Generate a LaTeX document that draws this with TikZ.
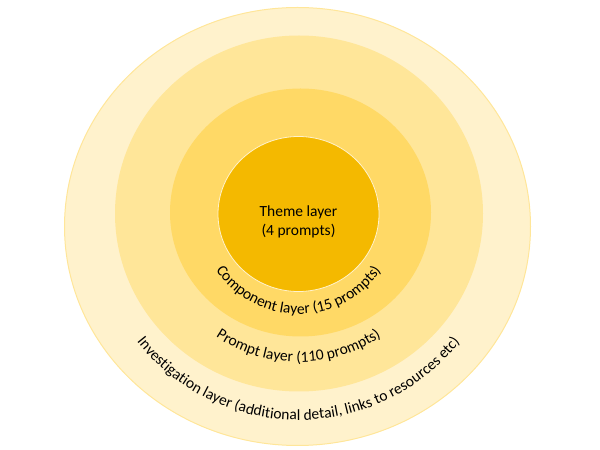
\documentclass[tikz,border=0pt]{standalone}
\usepackage{fontspec}
\setmainfont{Carlito}
\usetikzlibrary{decorations.text}
\definecolor{c1}{HTML}{FFF2CC}
\definecolor{c1b}{HTML}{FFE699}
\definecolor{c2}{HTML}{FFE699}
\definecolor{c3}{HTML}{FFD966}
\definecolor{c4}{HTML}{F4B900}
\tikzset{
  ringtext/.style={decorate,decoration={text along path,text align=center,
    text={|\fontsize{15.5}{18}\selectfont|#1}}}
}
\begin{document}
\begin{tikzpicture}[x=1pt,y=1pt]
\useasboundingbox (0,0) rectangle (600,450);
\fill[c1,draw=c1b,line width=1pt] (297.5,223.5) ellipse [x radius=233, y radius=219];
\fill[c2] (299,236.5) ellipse [x radius=184, y radius=178];
\fill[c3] (300.5,237.5) ellipse [x radius=130.5, y radius=124];
\fill[c4,draw=c1,line width=0.8pt] (298.5,236) ellipse [x radius=80.5, y radius=77.5];
\node[font=\fontsize{15.5}{19}\selectfont,align=center] (theme) at (298.5,228) {Theme layer\\(4 prompts)};
\coordinate (cc) at (298.5,236);
\path[ringtext={Component layer (15 prompts)}] ([shift={(190:100)}]cc) arc[start angle=190,end angle=350,radius=100];
\path[ringtext={Prompt layer (110 prompts)}] ([shift={(225:148)}]cc) arc[start angle=225,end angle=315,radius=148];
\path[ringtext={Investigation layer (additional detail, links to resources etc)}] ([shift={(190:206)}]cc) arc[start angle=190,end angle=350,radius=206];
\end{tikzpicture}
\end{document}
